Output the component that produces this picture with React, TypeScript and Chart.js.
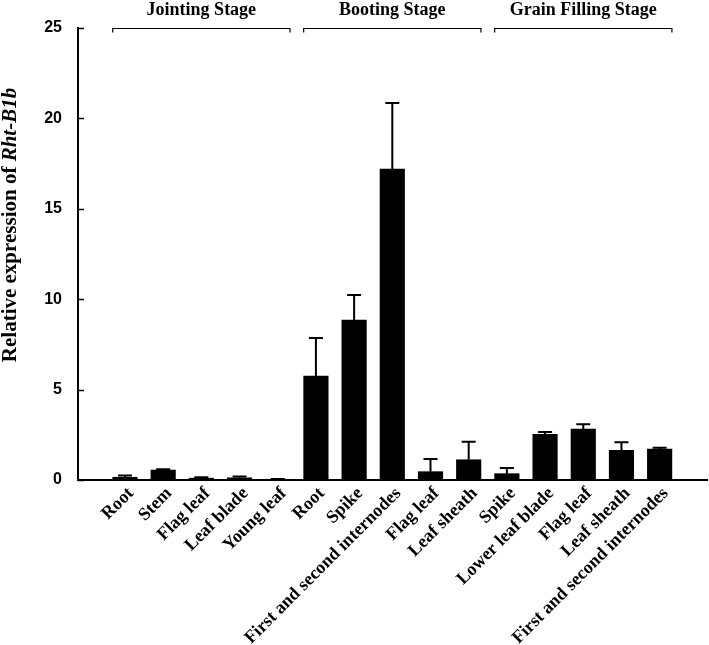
import React, { useEffect, useRef } from 'react';
import { Chart, registerables } from 'chart.js';
Chart.register(...registerables);

const categories = [
  'Root', 'Stem', 'Flag leaf', 'Leaf blade', 'Young leaf',
  'Root', 'Spike', 'First and second internodes', 'Flag leaf', 'Leaf sheath',
  'Spike', 'Lower leaf blade', 'Flag leaf', 'Leaf sheath', 'First and second internodes',
];
const expression = [0.15, 0.55, 0.1, 0.12, 0.04, 5.75, 8.85, 17.2, 0.46, 1.12, 0.35, 2.53, 2.82, 1.64, 1.71];
const errors = [0.1, 0.05, 0.05, 0.08, 0.02, 2.1, 1.38, 3.65, 0.7, 1.0, 0.31, 0.12, 0.26, 0.45, 0.08];
const stageNames = ['Jointing Stage', 'Booting Stage', 'Grain Filling Stage'];
const stageSizes = [5, 5, 5];
const yTicks = [0, 5, 10, 15, 20, 25];
const yTitleMain = 'Relative expression of ';
const yTitleGene = 'Rht-B1b';

const SERIF = '"Liberation Serif", "Times New Roman", serif';
const SANS = '"Liberation Sans", Arial, sans-serif';

const decorPlugin = {
  id: 'decor',
  afterDatasetsDraw(chart: any) {
    const ctx = chart.ctx;
    const yScale = chart.scales.y;
    const meta = chart.getDatasetMeta(0);
    ctx.save();
    ctx.strokeStyle = '#000';
    ctx.lineWidth = 2;
    meta.data.forEach((el: any, i: number) => {
      const x = el.x;
      const yTop = yScale.getPixelForValue(expression[i] + errors[i]);
      const yBar = yScale.getPixelForValue(expression[i]);
      ctx.beginPath();
      ctx.moveTo(x, yBar);
      ctx.lineTo(x, yTop);
      ctx.moveTo(x - 7, yTop);
      ctx.lineTo(x + 7, yTop);
      ctx.stroke();
    });
    ctx.restore();
  },
  afterDraw(chart: any) {
    const ctx = chart.ctx;
    const yScale = chart.scales.y;
    const area = chart.chartArea;
    const meta = chart.getDatasetMeta(0);
    ctx.save();
    // inward y ticks
    ctx.strokeStyle = '#000';
    ctx.lineWidth = 1.5;
    yTicks.forEach((t) => {
      const y = Math.round(yScale.getPixelForValue(t)) + 0.5;
      ctx.beginPath();
      ctx.moveTo(area.left, y);
      ctx.lineTo(area.left + 6, y);
      ctx.stroke();
    });
    // stage brackets
    let start = 0;
    const bracketY = area.top + 0.5;
    ctx.lineWidth = 1.2;
    stageNames.forEach((name, g) => {
      const end = start + stageSizes[g] - 1;
      const a = meta.data[start];
      const b = meta.data[end];
      const left = a.x - a.width / 2;
      const right = b.x + b.width / 2;
      ctx.beginPath();
      ctx.moveTo(left, bracketY + 4);
      ctx.lineTo(left, bracketY);
      ctx.lineTo(right, bracketY);
      ctx.lineTo(right, bracketY + 4);
      ctx.stroke();
      ctx.fillStyle = '#000';
      ctx.font = 'bold 18px ' + SERIF;
      ctx.textAlign = 'center';
      ctx.textBaseline = 'alphabetic';
      ctx.fillText(name, (left + right) / 2, 15);
      start = end + 1;
    });
    // y title
    ctx.translate(11, (area.top + area.bottom) / 2 - 29);
    ctx.rotate(-Math.PI / 2);
    const f1 = 'bold 21px ' + SERIF;
    const f2 = 'italic bold 21px ' + SERIF;
    ctx.font = f1;
    const w1 = ctx.measureText(yTitleMain).width;
    ctx.font = f2;
    const w2 = ctx.measureText(yTitleGene).width;
    const s = -(w1 + w2) / 2;
    ctx.textAlign = 'left';
    ctx.textBaseline = 'middle';
    ctx.fillStyle = '#000';
    ctx.font = f1;
    ctx.fillText(yTitleMain, s, 0);
    ctx.font = f2;
    ctx.fillText(yTitleGene, s + w1, 0);
    ctx.restore();
  },
};

export default function App() {
  const ref = useRef<HTMLCanvasElement | null>(null);
  useEffect(() => {
    if (!ref.current) return;
    const chart = new Chart(ref.current, {
      type: 'bar',
      data: {
        datasets: [
          {
            data: expression.map((v, i) => ({ x: i, y: v })) as any,
            backgroundColor: '#000',
            borderWidth: 0,
            barThickness: 24.5,
          },
        ],
      },
      options: {
        animation: false,
        responsive: false,
        layout: { padding: { left: 0, right: 2, top: 28, bottom: 0 } },
        plugins: { legend: { display: false }, tooltip: { enabled: false } },
        scales: {
          x: {
            type: 'linear',
            min: -1.23,
            max: 15.24,
            offset: false,
            grid: { display: false, drawTicks: false },
            border: { display: true, color: '#000', width: 2 },
            afterBuildTicks: (scale: any) => {
              scale.ticks = categories.map((_, i) => ({ value: i }));
            },
            afterFit: (scale: any) => {
              scale.height = 165;
            },
            ticks: {
              autoSkip: false,
              minRotation: 45,
              maxRotation: 45,
              padding: 3,
              labelOffset: 6,
              color: '#000',
              font: { family: SERIF, size: 18, weight: 'bold' },
              callback: (v: any) => categories[v as number] ?? '',
            },
          },
          y: {
            min: 0,
            max: 25,
            grid: { display: false, drawTicks: false },
            border: { display: true, color: '#000', width: 2 },
            afterBuildTicks: (scale: any) => {
              scale.ticks = yTicks.map((v) => ({ value: v }));
            },
            afterFit: (scale: any) => {
              scale.width = 78;
            },
            ticks: {
              padding: 16,
              color: '#000',
              font: { family: SANS, size: 16, weight: 'bold' },
            },
          },
        },
      },
      plugins: [decorPlugin],
    });
    return () => chart.destroy();
  }, []);
  return (
    <div style={{ position: 'absolute', left: 0, top: 0, width: 709, height: 645, background: '#fff' }}>
      <canvas ref={ref} width={709} height={645} />
    </div>
  );
}
